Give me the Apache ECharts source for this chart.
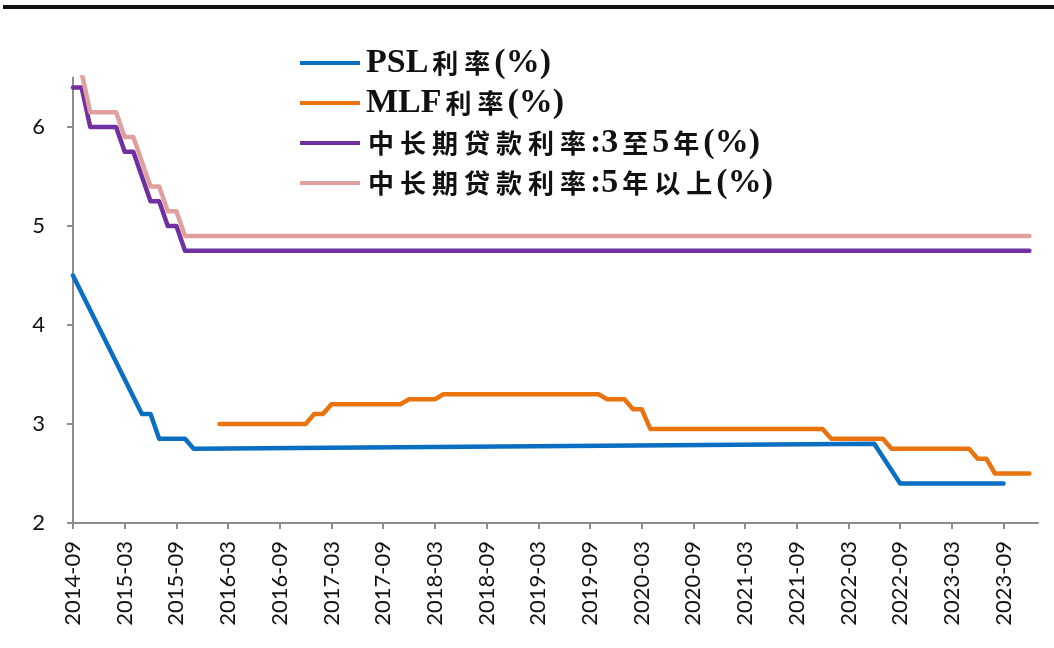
<!DOCTYPE html>
<html>
<head>
<meta charset="utf-8">
<script src="https://cdn.jsdelivr.net/npm/echarts@6/dist/echarts.min.js"></script>
<style>
  html, body { margin: 0; padding: 0; background: #fff; }
  #chart { width: 1054px; height: 648px; }
</style>
</head>
<body>
<div id="chart"></div>
<script>
// months on the x axis, 2014-09 .. 2024-01
const months = []
for (let y = 2014, m = 9; y < 2024 || (y === 2024 && m <= 1); m++) {
  if (m > 12) { m = 1; y++ }
  if (y === 2024 && m > 1) break
  months.push(y + '-' + String(m).padStart(2, '0'))
}

const yTicks = [2, 3, 4, 5, 6]

// corner points of each series: [month, rate %]
const psl = [
  ['2014-09', 4.5], ['2015-05', 3.1], ['2015-06', 3.1], ['2015-07', 2.85],
  ['2015-10', 2.85], ['2015-11', 2.75], ['2022-06', 2.8], ['2022-09', 2.4],
  ['2023-09', 2.4]
]
const mlf = [
  ['2016-02', 3.0], ['2016-12', 3.0], ['2017-01', 3.1], ['2017-02', 3.1],
  ['2017-03', 3.2], ['2017-11', 3.2], ['2017-12', 3.25], ['2018-03', 3.25],
  ['2018-04', 3.3], ['2019-10', 3.3], ['2019-11', 3.25], ['2020-01', 3.25],
  ['2020-02', 3.15], ['2020-03', 3.15], ['2020-04', 2.95], ['2021-12', 2.95],
  ['2022-01', 2.85], ['2022-07', 2.85], ['2022-08', 2.75], ['2023-05', 2.75],
  ['2023-06', 2.65], ['2023-07', 2.65], ['2023-08', 2.5], ['2023-12', 2.5]
]
const loan3to5 = [
  ['2014-09', 6.4], ['2014-10', 6.4], ['2014-11', 6.0], ['2015-02', 6.0],
  ['2015-03', 5.75], ['2015-04', 5.75], ['2015-05', 5.5], ['2015-06', 5.25],
  ['2015-07', 5.25], ['2015-08', 5.0], ['2015-09', 5.0], ['2015-10', 4.75],
  ['2023-12', 4.75]
]
const loan5plus = [
  ['2014-09', 6.55], ['2014-10', 6.55], ['2014-11', 6.15], ['2015-02', 6.15],
  ['2015-03', 5.9], ['2015-04', 5.9], ['2015-05', 5.65], ['2015-06', 5.4],
  ['2015-07', 5.4], ['2015-08', 5.15], ['2015-09', 5.15], ['2015-10', 4.9],
  ['2023-12', 4.9]
]

const names = ['PSL利率(%)', 'MLF利率(%)', '中长期贷款利率:3至5年(%)', '中长期贷款利率:5年以上(%)']
const colors = ['#0A6FC2', '#E8730F', '#7030A0', '#E0A09E']

const axisGray = '#8C8C8C'
const labelFont = 'Lato, "Noto Sans CJK SC", sans-serif'

// split a legend name into CJK chars and latin runs, so each gets its own font
const richName = (name) => {
  let out = ''
  let latin = ''
  for (const ch of name) {
    if (/[\u4e00-\u9fff]/.test(ch)) {
      if (latin) { out += '{l|' + latin + '}'; latin = '' }
      out += '{c|' + ch + '}'
    } else {
      latin += ch
    }
  }
  if (latin) out += '{l|' + latin + '}'
  return out
}

const chart = echarts.init(document.getElementById('chart'))

const mkLine = (name, data, color) => ({
  name,
  type: 'line',
  data,
  symbol: 'none',
  z: 3,
  lineStyle: { color, width: 4.5, cap: 'round', join: 'round' },
  itemStyle: { color },
  emphasis: { disabled: true },
})

chart.setOption({
  animation: false,
  color: colors,
  graphic: [{
    type: 'rect',
    shape: { x: 3, y: 5, width: 1051, height: 4 },
    style: { fill: '#111' },
    silent: true,
  }],
  grid: { left: 73, right: 16, top: 77.5, bottom: 125, containLabel: false },
  legend: {
    orient: 'vertical',
    left: 295,
    top: 41,
    icon: 'rect',
    itemWidth: 60,
    itemHeight: 4,
    itemGap: 6,
    data: names,
    formatter: richName,
    textStyle: {
      color: '#111',
      lineHeight: 30,
      rich: {
        c: {
          fontFamily: '"Noto Sans CJK SC", sans-serif',
          fontWeight: 'bold',
          fontSize: 26,
          lineHeight: 30,
          padding: [0, 3],
          color: '#111',
        },
        l: {
          fontFamily: '"Liberation Serif", serif',
          fontWeight: 'bold',
          fontSize: 34,
          lineHeight: 30,
          padding: [0, 1],
          color: '#111',
        },
      },
    },
  },
  xAxis: {
    type: 'category',
    data: months,
    boundaryGap: false,
    axisLine: { lineStyle: { color: axisGray, width: 2 } },
    axisTick: { interval: 5, length: 6, lineStyle: { color: axisGray, width: 2 } },
    axisLabel: {
      interval: 5,
      rotate: 90,
      margin: 18,
      fontFamily: labelFont,
      fontSize: 22,
      color: '#111',
    },
    splitLine: { show: false },
  },
  yAxis: {
    type: 'value',
    min: 2,
    max: 6.5,
    interval: 1,
    axisLine: { show: true, lineStyle: { color: axisGray, width: 2 } },
    axisTick: { show: true, length: 6, customValues: yTicks, lineStyle: { color: axisGray, width: 2 } },
    axisLabel: {
      customValues: yTicks,
      margin: 28,
      fontFamily: labelFont,
      fontSize: 22,
      color: '#111',
    },
    splitLine: { show: false },
  },
  series: [
    mkLine(names[0], psl, colors[0]),
    mkLine(names[1], mlf, colors[1]),
    mkLine(names[2], loan3to5, colors[2]),
    mkLine(names[3], loan5plus, colors[3]),
  ],
})
</script>
</body>
</html>
